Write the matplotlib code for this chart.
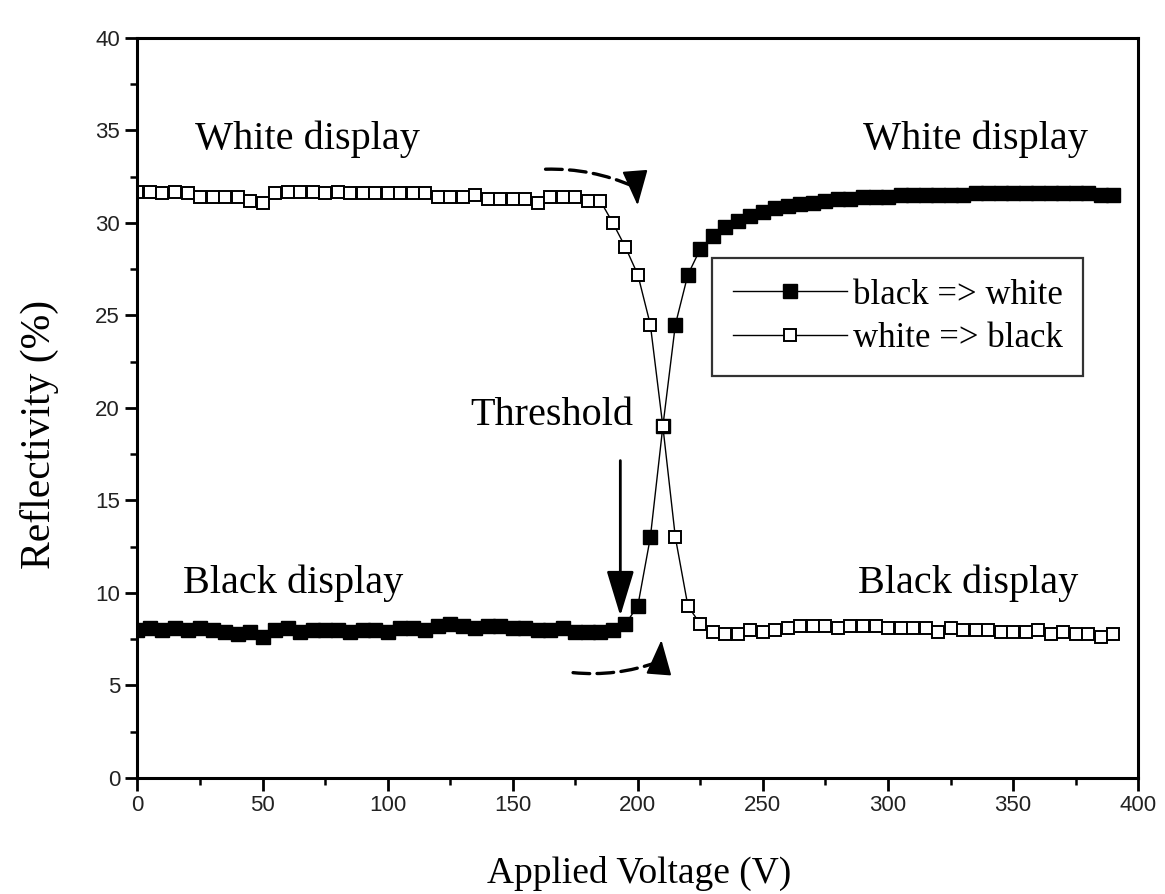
import numpy as np
import matplotlib
matplotlib.use("Agg")
import matplotlib.pyplot as plt
from matplotlib.patches import FancyArrowPatch

# applied voltage, 5 V steps
voltage = np.arange(0, 395, 5)

# black => white (filled squares)
black_to_white = [
    8.0, 8.1, 8.0, 8.1, 8.0, 8.1, 8.0, 7.9, 7.8, 7.9, 7.6, 8.0, 8.1, 7.9, 8.0, 8.0,
    8.0, 7.9, 8.0, 8.0, 7.9, 8.1, 8.1, 8.0, 8.2, 8.3, 8.2, 8.1, 8.2, 8.2, 8.1, 8.1,
    8.0, 8.0, 8.1, 7.9, 7.9, 7.9, 8.0, 8.3, 9.3, 13.0, 19.0, 24.5, 27.2, 28.6,
    29.3, 29.8, 30.1, 30.4, 30.6, 30.8, 30.9, 31.0, 31.1, 31.2, 31.3, 31.3, 31.4,
    31.4, 31.4, 31.5, 31.5, 31.5, 31.5, 31.5, 31.5, 31.6, 31.6, 31.6, 31.6, 31.6,
    31.6, 31.6, 31.6, 31.6, 31.6, 31.5, 31.5,
]

# white => black (open squares)
white_to_black = [
    31.7, 31.7, 31.6, 31.7, 31.6, 31.4, 31.4, 31.4, 31.4, 31.2, 31.1, 31.6, 31.7,
    31.7, 31.7, 31.6, 31.7, 31.6, 31.6, 31.6, 31.6, 31.6, 31.6, 31.6, 31.4, 31.4,
    31.4, 31.5, 31.3, 31.3, 31.3, 31.3, 31.1, 31.4, 31.4, 31.4, 31.2, 31.2, 30.0,
    28.7, 27.2, 24.5, 19.0, 13.0, 9.3, 8.3, 7.9, 7.8, 7.8, 8.0, 7.9, 8.0, 8.1, 8.2,
    8.2, 8.2, 8.1, 8.2, 8.2, 8.2, 8.1, 8.1, 8.1, 8.1, 7.9, 8.1, 8.0, 8.0, 8.0, 7.9,
    7.9, 7.9, 8.0, 7.8, 7.9, 7.8, 7.8, 7.6, 7.8, 7.7, 7.8, 8.0,
][:len(voltage)]

serif = ["Liberation Serif", "DejaVu Serif"]
sans = ["Liberation Sans", "DejaVu Sans"]

fig = plt.figure(figsize=(11.65, 8.94), dpi=100)
ax = fig.add_axes([0.118, 0.130, 0.859, 0.8275])

ax.plot(voltage, black_to_white, color="black", lw=1.0, marker="s", ms=9.5,
        mfc="black", mec="black", label="black => white")
ax.plot(voltage, white_to_black, color="black", lw=1.0, marker="s", ms=8.5,
        mfc="white", mec="black", mew=1.4, label="white => black")

ax.set_xlim(0, 400)
ax.set_ylim(0, 40)
ax.set_xticks(np.arange(0, 401, 50))
ax.set_xticks(np.arange(0, 401, 25), minor=True)
ax.set_yticks(np.arange(0, 41, 5))
ax.set_yticks(np.arange(0, 41, 2.5), minor=True)
ax.tick_params(which="major", direction="out", length=9, width=2, top=False, right=False)
ax.tick_params(which="minor", direction="out", length=5, width=1.8, top=False, right=False)
for lab in ax.get_xticklabels() + ax.get_yticklabels():
    lab.set_family(sans)
    lab.set_fontsize(16)
    lab.set_color("#222222")
for s in ax.spines.values():
    s.set_linewidth(2.2)

ax.set_xlabel("Applied Voltage (V)", family=serif, fontsize=27)
ax.xaxis.set_label_coords(0.501, -0.106)
ax.set_ylabel("Reflectivity (%)", family=serif, fontsize=30)
ax.yaxis.set_label_coords(-0.078, 0.4635)

ax.text(23, 34.5, "White display", family=serif, fontsize=29, va="center")
ax.text(290, 34.5, "White display", family=serif, fontsize=29, va="center")
ax.text(18, 10.5, "Black display", family=serif, fontsize=29, va="center")
ax.text(288, 10.5, "Black display", family=serif, fontsize=29, va="center")
ax.text(133, 19.6, "Threshold", family=serif, fontsize=29, va="center")

# threshold arrow
ax.annotate("", xy=(193, 8.6), xytext=(193, 17.3),
            arrowprops=dict(arrowstyle="-|>,head_length=2.8,head_width=0.85",
                            color="black", lw=2))

# curved arrows: dashed body, solid head drawn on its own
dash = (0, (5, 2.2))
head = "-|>,head_length=22,head_width=8"
# upper one (white => black)
ax.add_patch(FancyArrowPatch((162, 32.9), (199.5, 31.9), connectionstyle="arc3,rad=-0.12",
                             arrowstyle="-", color="black", lw=2.4, linestyle=dash))
ax.add_patch(FancyArrowPatch((199.2, 32.2), (200, 30.8), arrowstyle=head,
                             mutation_scale=1, color="black", lw=1.5))
# lower one (black => white)
ax.add_patch(FancyArrowPatch((173, 5.7), (208.8, 6.3), connectionstyle="arc3,rad=0.12",
                             arrowstyle="-", color="black", lw=2.4, linestyle=dash))
ax.add_patch(FancyArrowPatch((208.6, 6.0), (209.5, 7.6), arrowstyle=head,
                             mutation_scale=1, color="black", lw=1.5))

leg = ax.legend(loc="upper left", bbox_to_anchor=(0.574, 0.703), frameon=True,
                fancybox=False, edgecolor="black", handlelength=3.3,
                handletextpad=0.15, borderpad=0.6, labelspacing=0.3,
                borderaxespad=0, prop={"family": serif, "size": 25})
leg.get_frame().set_linewidth(1.6)

fig.savefig("out.png", dpi=100)
